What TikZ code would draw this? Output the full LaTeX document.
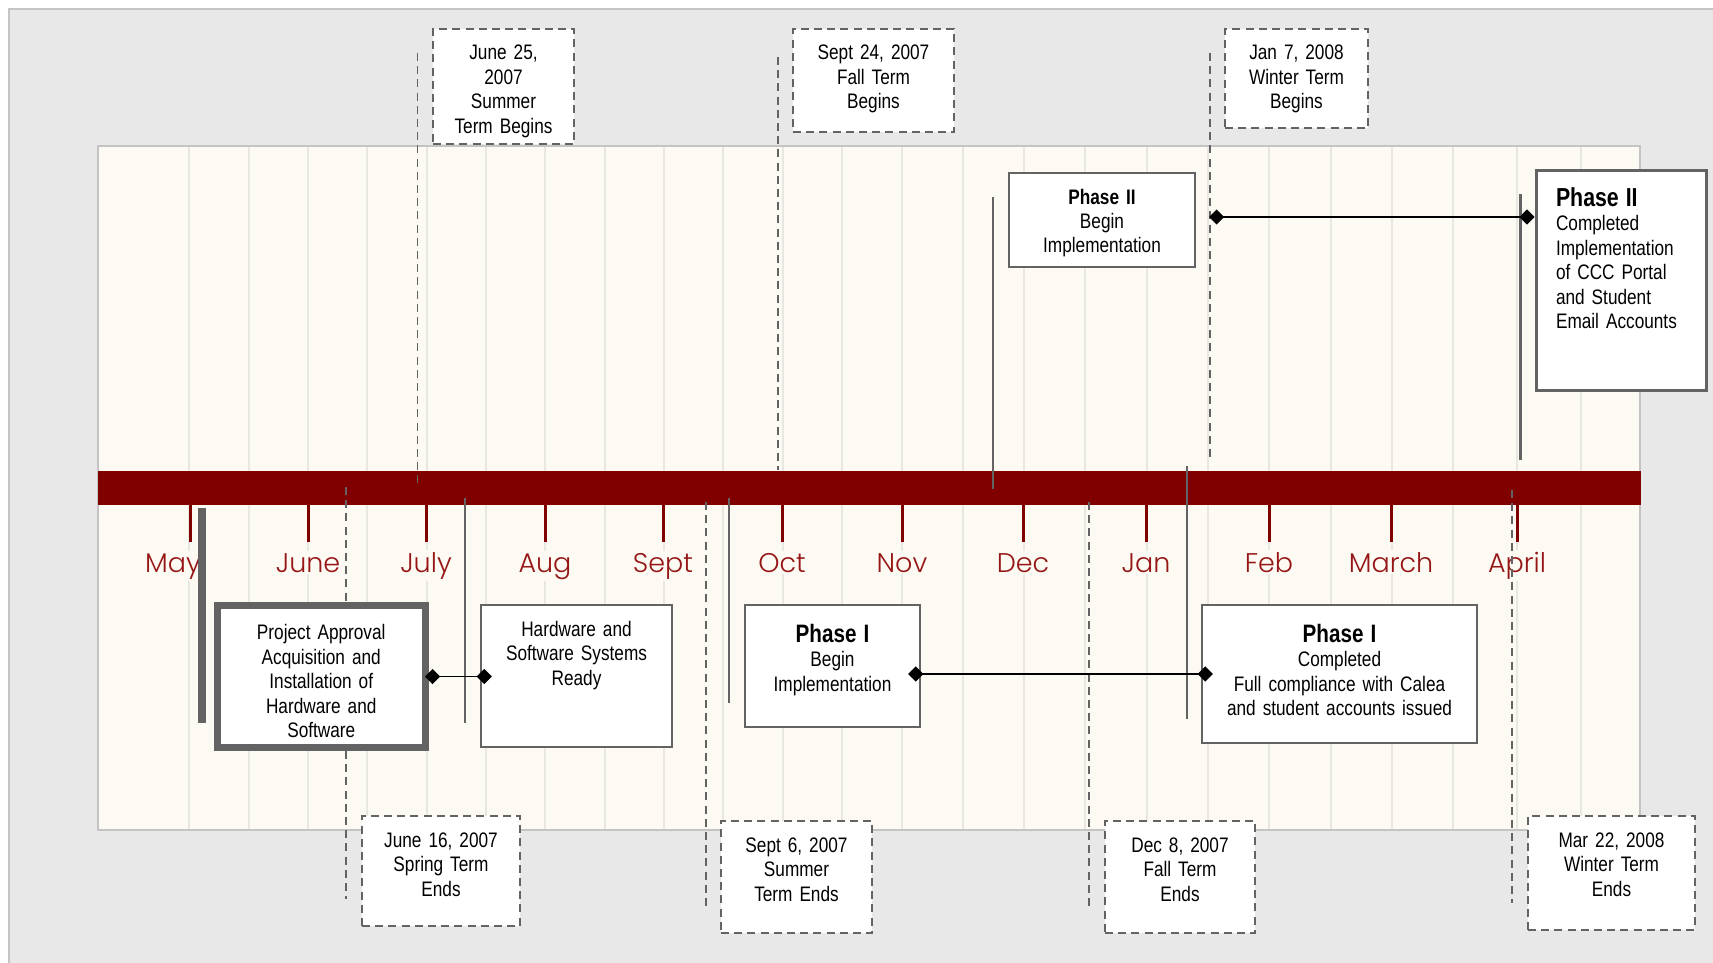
\documentclass[tikz,border=0pt]{standalone}
\usepackage{fontspec}
\setmainfont{Liberation Sans}[FakeStretch=0.82]
\newfontfamily\monthfont{Poppins Light}
\usepackage{tikz}
\usetikzlibrary{arrows.meta,positioning}
\definecolor{bggray}{HTML}{E8E8E8}
\definecolor{framegray}{HTML}{C4C4C4}
\definecolor{cream}{HTML}{FCFAF3}
\definecolor{gridgray}{HTML}{E8E7E2}
\definecolor{barred}{HTML}{800000}
\definecolor{monthred}{HTML}{961616}
\definecolor{linegray}{HTML}{636363}
\tikzset{font=\fontsize{10.5}{12.25}\selectfont}
\tikzset{every picture/.style={line width=0.5pt}}
\tikzstyle{term}=[draw=linegray,dash pattern=on 4pt off 2.6pt,line width=0.9pt,fill=white,align=center,inner xsep=3pt,inner ysep=3pt,text height=12.5pt]
\tikzstyle{termline}=[linegray,dash pattern=on 4pt off 2.6pt,line width=0.8pt]
\tikzstyle{event}=[draw=linegray,line width=1.2pt,fill=white,align=center,inner xsep=3pt,inner ysep=3pt,text height=12.5pt]
\tikzstyle{stem}=[linegray,line width=1.1pt]
\tikzstyle{month}=[anchor=base,text=monthred,font=\monthfont\fontsize{13.5}{16}\selectfont,fill=cream,inner sep=1pt]
\tikzstyle{mtick}=[barred,line width=1.5pt]
\tikzstyle{gridline}=[gridgray,line width=0.9pt]
\tikzstyle{link}=[<->,>={Diamond[length=7.6pt,width=7.6pt]},black,line width=0.85pt]
\newcommand{\phasehead}[1]{{\fontsize{12.6}{12.25}\selectfont\bfseries #1}}

\begin{document}
\begin{tikzpicture}[x=0.5pt,y=-0.5pt]
\useasboundingbox (0,0) rectangle (1713,963);
% background and panel
\fill[bggray] (9,9) rectangle (1713,963);
\draw[framegray,line width=1pt] (9,963) -- (9,9) -- (1713,9);
\filldraw[fill=cream,draw=framegray,line width=1pt] (98,146) rectangle (1640,830);
\foreach \x in {189,249,308,367,427,486,545,605,664,723,783,842,902,963,1024,1085,1147,1208,1269,1331,1392,1453,1517,1581}
  \draw[gridline] (\x,147) -- (\x,829);
% time bar
\fill[barred] (98,471) rectangle (1641,505);
\foreach \x in {190,308,426,545,663,782,902,1023,1146,1269,1391,1517}
  \draw[mtick] (\x,505) -- (\x,542);
\node[month] (may) at (173,572) {May};
\node[month] (jun) at (308,572) {June};
\node[month] (jul) at (426,572) {July};
\node[month] (aug) at (545,572) {Aug};
\node[month] (sep) at (663,572) {Sept};
\node[month] (oct) at (782,572) {Oct};
\node[month] (nov) at (902,572) {Nov};
\node[month] (dec) at (1023,572) {Dec};
\node[month] (jan) at (1146,572) {Jan};
\node[month] (feb) at (1269,572) {Feb};
\node[month] (mar) at (1391,572) {March};
\node[month] (apr) at (1517,572) {April};
% term dates
\draw[termline] (417.5,53) -- (417.5,488);
\draw[termline] (778,57) -- (778,470);
\draw[termline] (1210,53) -- (1210,462);
\draw[termline] (346,487) -- (346,899);
\draw[termline] (706,502) -- (706,910);
\draw[termline] (1089,502) -- (1089,910);
\draw[termline] (1512,490) -- (1512,903);
\node[term,text width=64.5pt,text depth=39pt] (t1) at (503.5,86.5) {June 25,\\2007\\Summer\\Term Begins};
\node[term,text width=74.5pt,text depth=33pt] (t2) at (873.5,80.5) {Sept 24, 2007\\Fall Term\\Begins};
\node[term,text width=65.5pt,text depth=31pt] (t3) at (1296.5,78.5) {Jan 7, 2008\\Winter Term\\Begins};
\node[term,text width=73pt,text depth=36.5pt] (t4) at (441,871) {June 16, 2007\\Spring Term\\Ends};
\node[term,text width=69.5pt,text depth=37.5pt] (t5) at (796.5,877) {Sept 6, 2007\\Summer\\Term Ends};
\node[term,text width=69pt,text depth=37.5pt] (t6) at (1180,877) {Dec 8, 2007\\Fall Term\\Ends};
\node[term,text width=77.5pt,text depth=38.5pt] (t7) at (1611.5,873) {Mar 22, 2008\\Winter Term\\Ends};
% milestones
\draw[stem,line width=4pt] (201.7,508) -- (201.7,723);
\draw[stem] (465,498) -- (465,723);
\draw[stem] (729,498) -- (729,703);
\draw[stem] (993,197) -- (993,489);
\draw[stem] (1187,466) -- (1187,719);
\draw[stem] (1520.5,194) -- (1520.5,460);
\node[event,line width=3.5pt,text width=98.25pt,text height=14pt,text depth=51pt] (A) at (321.25,676.5) {Project Approval\\Acquisition and\\Installation of\\Hardware and\\Software};
\node[event,text width=89.5pt,text depth=52.5pt] (B) at (576.5,676) {Hardware and\\Software Systems\\Ready};
\node[event,text width=81.5pt,text height=15.5pt,text depth=39.5pt] (C) at (832.5,666) {\phasehead{Phase I}\\Begin\\Implementation};
\node[event,text width=131.5pt,text height=15.5pt,text depth=47.5pt] (D) at (1339.5,674) {\phasehead{Phase I}\\Completed\\Full compliance with Calea\\and student accounts issued};
\node[event,text width=86.75pt,text depth=28.5pt] (E) at (1102,220) {\textbf{Phase II}\\Begin\\Implementation};
\node[event,line width=1.5pt,align=left,inner xsep=10pt,text width=65pt,text height=15pt,text depth=89pt] (F) at (1621,280) {{\fontsize{13}{12.25}\selectfont\bfseries Phase II}\\Completed\\Implementation\\of CCC Portal\\and Student\\Email Accounts};
\coordinate (p2) at (1209,217);
\path[link]
(A.east) edge[shorten <=-2pt,shorten >=-6pt] (A.east -| B.west)
(C.east |- D.west) edge[shorten <=-6.5pt,shorten >=-6pt] (D.west)
(p2) edge (F.west |- p2);
\end{tikzpicture}
\end{document}
